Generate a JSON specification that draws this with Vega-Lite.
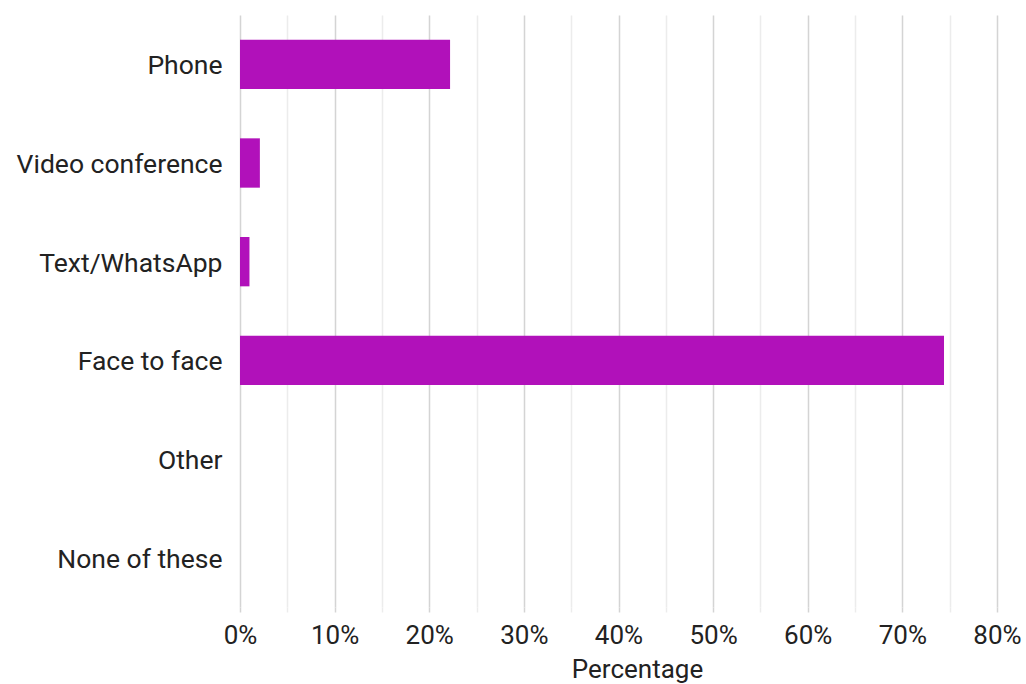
{
  "$schema": "https://vega.github.io/schema/vega-lite/v6.json",
  "width": 757,
  "height": 592,
  "autosize": {"type": "none"},
  "padding": {"left": 240, "top": 15, "right": 29, "bottom": 77},
  "background": "white",
  "config": {
    "view": {"stroke": null},
    "font": "Roboto",
    "axis": {"labelFont": "Roboto", "titleFont": "Roboto", "labelColor": "#222", "titleColor": "#222"}
  },
  "data": {
    "values": [
      {"category": "Phone", "value": 0.222},
      {"category": "Video conference", "value": 0.021},
      {"category": "Text/WhatsApp", "value": 0.010},
      {"category": "Face to face", "value": 0.744},
      {"category": "Other", "value": 0.0},
      {"category": "None of these", "value": 0.0}
    ]
  },
  "mark": {"type": "bar", "color": "#B111BA"},
  "encoding": {
    "y": {
      "field": "category",
      "type": "nominal",
      "sort": null,
      "scale": {"paddingInner": 0.5, "paddingOuter": 0.25},
      "axis": {
        "title": null,
        "domain": false,
        "ticks": false,
        "labelFontSize": 26.5,
        "labelPadding": 18,
        "labelOffset": 2,
        "labelLimit": 260
      }
    },
    "x": {
      "field": "value",
      "type": "quantitative",
      "scale": {"domain": [0, 0.8], "nice": false},
      "axis": {
        "title": "Percentage",
        "titleFontSize": 26,
        "titleFontWeight": "normal",
        "titlePadding": 8,
        "titleX": 397,
        "values": [0, 0.05, 0.1, 0.15, 0.2, 0.25, 0.3, 0.35, 0.4, 0.45, 0.5, 0.55, 0.6, 0.65, 0.7, 0.75, 0.8],
        "format": ".0%",
        "labelExpr": "round(datum.value*100) % 10 === 0 ? datum.label : ''",
        "labelFontSize": 26,
        "labelPadding": 10,
        "labelFlush": false,
        "domain": false,
        "grid": true,
        "gridColor": {"condition": {"test": "round(datum.value*100) % 10 === 0", "value": "#d4d4d4"}, "value": "#ececec"},
        "gridWidth": 1.5,
        "ticks": true,
        "tickColor": {"condition": {"test": "round(datum.value*100) % 10 === 0", "value": "#d4d4d4"}, "value": "#ececec"},
        "tickSize": 5,
        "tickWidth": 1.5
      }
    }
  }
}
